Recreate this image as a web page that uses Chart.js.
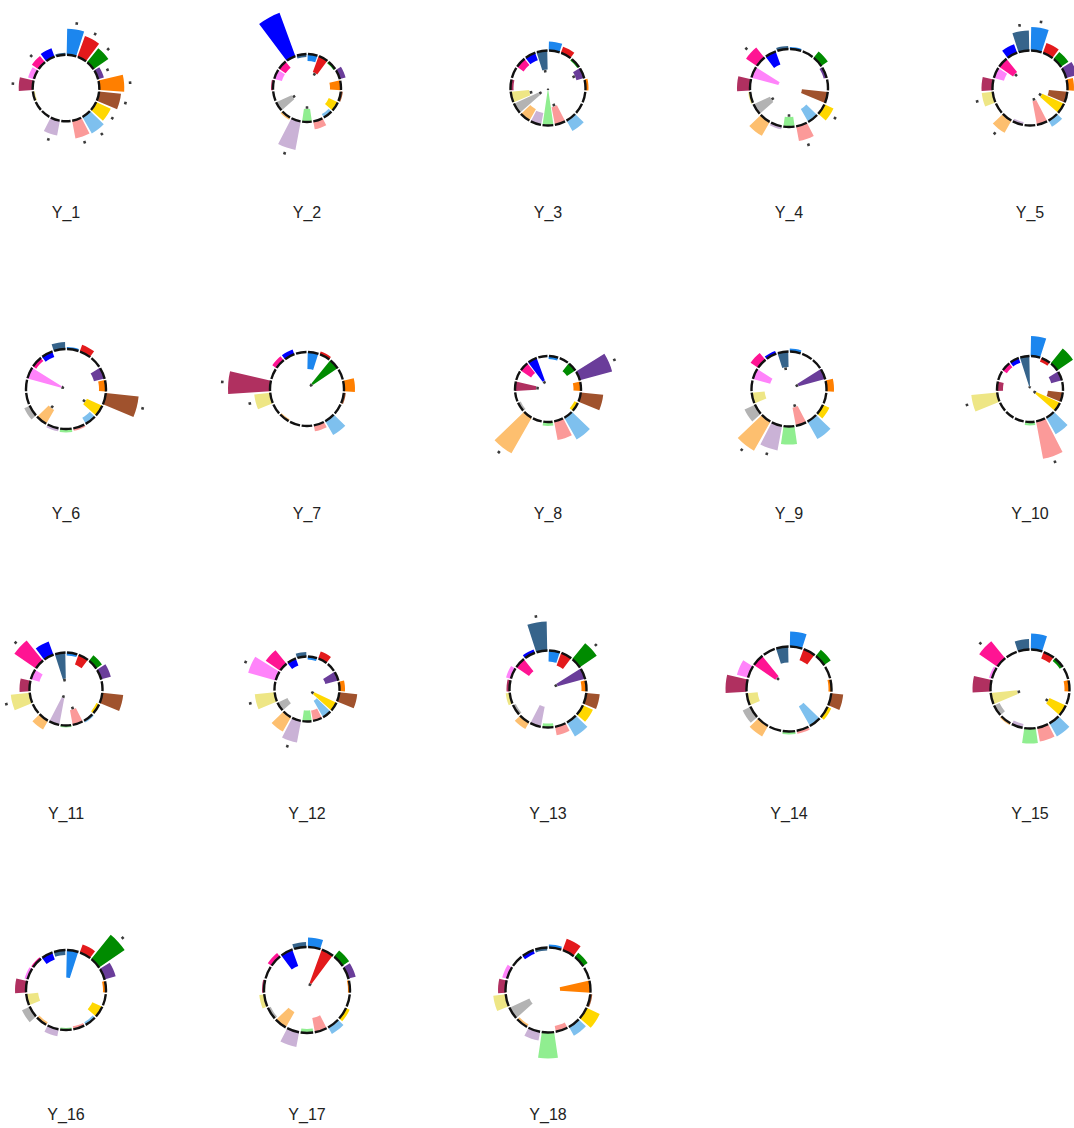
<!DOCTYPE html>
<html>
<head>
<meta charset="utf-8">
<script src="https://cdn.jsdelivr.net/npm/chart.js@4.4.1/dist/chart.umd.min.js"></script>
<style>
  html, body { margin: 0; padding: 0; background: #fff; }
  body { width: 1074px; height: 1128px; position: relative; overflow: hidden;
         font-family: "Liberation Sans", Arial, sans-serif; }
  .panel { position: absolute; }
  .label { position: absolute; width: 160px; text-align: center; font-size: 16px;
           line-height: 20px; color: #222; }
</style>
</head>
<body>
<script>
// Categories (clockwise from 12 o'clock) and their colours
const categories = ['c01', 'c02', 'c03', 'c04', 'c05', 'c06', 'c07', 'c08', 'c09', 'c10',
                    'c11', 'c12', 'c13', 'c14', 'c15', 'c16', 'c17', 'c18', 'c19'];
const colors = ['#1C86EE', '#E31A1C', '#008B00', '#6A3D9A', '#FF7F00', '#A0522D', '#FFD700',
                '#7EC0EE', '#FB9A99', '#90EE90', '#CAB2D6', '#FDBF6F', '#B3B3B3', '#EEE685',
                '#B03060', '#FF83FA', '#FF1493', '#0000FF', '#36648B'];

const panels = ['Y_1', 'Y_2', 'Y_3', 'Y_4', 'Y_5', 'Y_6', 'Y_7', 'Y_8', 'Y_9', 'Y_10',
                'Y_11', 'Y_12', 'Y_13', 'Y_14', 'Y_15', 'Y_16', 'Y_17', 'Y_18'];

// Bar values per panel (0 = the dashed ring)
const Y_1  = [2.6, 2.2, 1.8, 0.6, 2.5, 2.2, 1.6, 1.9, 1.8, 0, 1.5, 0, 0, -0.2, 1.4, 0.6, 0.8, 0.9, 0.2];
const Y_2  = [-0.7, -1.7, -0.2, 0.6, -1.1, 0.2, -1.0, -0.4, 0.8, -1.3, 2.9, 0.25, -1.7, 0, 0.2, -0.8, -0.8, 4.6, -0.3];
const Y_3  = [0.9, 0.65, -0.2, -0.8, 0.3, 0, 0, 1.2, -1.8, -3.5, -1.2, -1.3, -2.7, -1.85, -0.3, 0, -0.8, -0.8, -1.9];
const Y_4  = [0.2, 0, 0.8, -0.3, 0, -2.6, 1.0, -1.5, 1.5, -1.0, 0.3, 1.6, -1.8, 0.2, 1.3, -2.8, 1.3, -1.4, 0.3];
const Y_5  = [2.35, 1.05, 0.9, 1.15, 0.65, -1.85, -2.4, 0.7, -2.4, 0, -0.3, 1.4, 0, 1.1, 1.1, -1.05, -1.7, 0.9, 2.0];
const Y_6  = [0.2, 0.7, 0, -1.1, -0.7, 3.3, -1.7, -0.7, 0.25, 0.35, 0.3, -1.6, 0.6, 0, 0, -3.5, -0.4, -0.6, 0.7];
const Y_7  = [-1.7, 0.3, -3.0, 0, 1.1, 0.2, 0, 1.6, 0.6, 0, 0, -0.2, 0, 1.6, 4.2, 0, 0.5, 0.5, 0];
const Y_8  = [-0.3, 0, -1.0, 3.35, -0.75, 2.25, -0.4, 2.5, 1.9, 0.4, 0, 4.1, -0.3, 0, -2.1, 0, -1.25, -2.4, 0];
const Y_9  = [0.3, 0, 0, -2.75, 0.75, 0, 0.7, 2.0, -1.85, 1.8, 2.5, 3.35, 1.15, -1.3, 0, -1.8, 0.9, 0.3, -1.55];
const Y_10 = [2.0, -0.4, 1.9, -1.1, 0, -1.5, -2.6, 1.9, 3.8, 0.35, 0, 0, 0, 2.6, -0.6, 0, -0.5, -0.5, -3.0];
const Y_11 = [-0.3, -1.05, 0.7, 1.0, 0, 2.1, -0.3, 0.2, -1.5, 0.2, -2.7, 1.0, 0, 1.9, 1.0, -0.9, 2.6, 1.4, -2.6];
const Y_12 = [-0.3, 0.75, 0, -1.35, 0.55, 1.8, -2.45, -1.9, -1.05, -1.1, 2.2, 1.65, -1.1, 2.0, 0, 2.85, 1.75, -0.75, 0.45];
const Y_13 = [-1.1, -1.35, 2.05, -2.85, -0.5, 1.35, 1.1, 1.6, 0.85, -0.4, -2.05, 0.75, -0.3, 0.4, 0.3, 0.5, -1.55, 0.35, 2.9];
const Y_14 = [1.5, -1.2, 0.8, 0, -0.3, 1.2, 0.4, -2.25, 0.3, 0.3, 0, 1.2, 0.85, -1.1, 2.1, 1.15, -2.6, 0, -1.6];
const Y_15 = [1.6, -0.7, -0.35, 0, -0.5, 0, -1.8, 1.5, 1.4, 1.5, -0.4, 0.2, -0.6, -2.65, 1.8, 0.3, 2.2, 0, 1.05];
const Y_16 = [-2.75, 0.85, 3.1, 1.15, -0.3, 0, -1.1, -0.3, -0.3, -0.2, 0.7, -0.3, 0.85, -1.2, 1.1, 0.3, 0.2, -0.75, -0.5];
const Y_17 = [0.95, -3.55, 0.8, 0.75, -0.2, 0, 0.4, 0.75, -1.45, -0.4, 1.5, -1.75, -0.3, 0.5, 0.2, 0, 0.45, -1.75, 0.5];
const Y_18 = [0.3, 1.2, 0.55, 0, -3.05, 0.2, 1.45, 1.0, -0.6, 2.6, 0.9, -0.3, -2.2, 1.25, 0.75, 0.5, 0, -0.4, -0.3];

// Indices of bars flagged with a significance dot
const Y_1_sig  = [0, 1, 2, 3, 4, 5, 6, 7, 8, 10, 14, 16];
const Y_2_sig  = [1, 9, 10, 12];
const Y_3_sig  = [3, 8, 9, 12, 13, 18];
const Y_4_sig  = [6, 8, 9, 12, 16];
const Y_5_sig  = [0, 6, 8, 11, 13, 16, 18];
const Y_6_sig  = [5, 6, 11, 15];
const Y_7_sig  = [2, 13, 14];
const Y_8_sig  = [3, 11, 14, 17];
const Y_9_sig  = [3, 8, 10, 11, 18];
const Y_10_sig = [6, 8, 13, 18];
const Y_11_sig = [8, 10, 13, 16, 18];
const Y_12_sig = [6, 10, 13, 15];
const Y_13_sig = [2, 3, 18];
const Y_14_sig = [16];
const Y_15_sig = [6, 13, 16];
const Y_16_sig = [2];
const Y_17_sig = [1];
const Y_18_sig = [];

// Free radial scale per panel: value at the centre (span is the same for all)
const panelMin = [-3.33, -3.4, -3.75, -3.9, -3.75, -4.0, -3.7, -3.3, -3.75, -3.3,
                  -3.65, -3.25, -3.85, -4.25, -3.95, -4.0, -4.3, -4.25];
const panelSpan = 10;

const series = [Y_1, Y_2, Y_3, Y_4, Y_5, Y_6, Y_7, Y_8, Y_9, Y_10, Y_11, Y_12, Y_13, Y_14, Y_15, Y_16, Y_17, Y_18];
const sigs = [Y_1_sig, Y_2_sig, Y_3_sig, Y_4_sig, Y_5_sig, Y_6_sig, Y_7_sig, Y_8_sig, Y_9_sig, Y_10_sig,
              Y_11_sig, Y_12_sig, Y_13_sig, Y_14_sig, Y_15_sig, Y_16_sig, Y_17_sig, Y_18_sig];

const BAR_FILL = 0.88;   // share of each sector used by its bar
const RING_GAP = 1.6;    // px gap in the ring between sectors

// Polar area variant: bars grow from the 0 ring, in or out
class RadialBarController extends Chart.PolarAreaController {
    static id = 'radialBar';

    updateElements(arcs, start, count, mode) {
        const scale = this._cachedMeta.rScale;
        const n = this.chart.data.labels.length;
        const step = 2 * Math.PI / n;
        const base = scale.getDistanceFromCenterForValue(0);
        const marker = this.getDataset().marker;

        for (let i = start; i < start + count; i++) {
            const v = this.getParsed(i).r;
            const mid = -Math.PI / 2 + (i + 0.5) * step;
            let props;
            if (v === null || v === undefined || isNaN(v)) {
                props = { innerRadius: 0, outerRadius: 0, startAngle: mid, endAngle: mid };
            } else if (marker) {
                const d = scale.getDistanceFromCenterForValue(v);
                const h = 1.3 / Math.max(d, 2);
                props = { innerRadius: Math.max(d - 1.3, 0), outerRadius: d + 1.3, startAngle: mid - h, endAngle: mid + h };
            } else {
                const d = scale.getDistanceFromCenterForValue(v);
                props = {
                    innerRadius: Math.min(base, d),
                    outerRadius: Math.max(base, d),
                    startAngle: mid - step * BAR_FILL / 2,
                    endAngle: mid + step * BAR_FILL / 2
                };
            }
            props.x = scale.xCenter;
            props.y = scale.yCenter;
            props.options = this.resolveDataElementOptions(i, mode);
            this.updateElement(arcs[i], i, props, mode);
        }
    }
}
Chart.register(RadialBarController);

// Ring dashes line up with the sector boundaries
function ringDash(scale) {
    const r = scale.getDistanceFromCenterForValue(0);
    const seg = 2 * Math.PI * r / categories.length;
    return [seg - RING_GAP, RING_GAP];
}
function ringOffset(scale) {
    const r = scale.getDistanceFromCenterForValue(0);
    const seg = 2 * Math.PI * r / categories.length;
    const frac = (categories.length / 4) % 1;
    return frac * seg - RING_GAP / 2;
}

function dotValues(values, sig) {
    return values.map((v, i) => sig.includes(i) ? (v > 0 ? v + 0.6 : v - 0.15) : null);
}

panels.forEach((name, p) => {
    const col = p % 5;
    const row = Math.floor(p / 5);
    const cx = 66 + 241 * col;
    const cy = 88 + 300.7 * row;

    const canvas = document.createElement('canvas');
    canvas.width = 200;
    canvas.height = 200;
    canvas.className = 'panel';
    canvas.style.left = (cx - 100) + 'px';
    canvas.style.top = Math.round(cy - 100) + 'px';
    document.body.appendChild(canvas);

    const label = document.createElement('div');
    label.className = 'label';
    label.textContent = name;
    label.style.left = (cx - 80) + 'px';
    label.style.top = Math.round(203 + 300.7 * row) + 'px';
    document.body.appendChild(label);

    new Chart(canvas, {
        type: 'radialBar',
        data: {
            labels: categories,
            datasets: [{
                data: series[p],
                backgroundColor: colors,
                borderWidth: 0
            }, {
                data: dotValues(series[p], sigs[p]),
                marker: true,
                order: -1,
                backgroundColor: '#3a3a3a',
                borderWidth: 0
            }]
        },
        options: {
            responsive: false,
            animation: false,
            layout: { padding: 0 },
            plugins: {
                legend: { display: false },
                tooltip: { enabled: false }
            },
            scales: {
                r: {
                    min: panelMin[p],
                    max: panelMin[p] + panelSpan,
                    beginAtZero: false,
                    ticks: { display: false },
                    // only the baseline (0) gets a circle
                    afterBuildTicks: (scale) => {
                        scale.ticks = [{ value: scale.min }, { value: 0 }, { value: scale.max }];
                    },
                    angleLines: { display: false },
                    pointLabels: { display: false },
                    grid: {
                        z: 1,
                        circular: true,
                        lineWidth: 2.4,
                        color: (c) => (c.tick && c.tick.value === 0) ? '#111' : 'rgba(0,0,0,0)'
                    },
                    border: {
                        dash: (c) => ringDash(c.scale),
                        dashOffset: (c) => ringOffset(c.scale)
                    }
                }
            }
        }
    });
});
</script>
</body>
</html>
